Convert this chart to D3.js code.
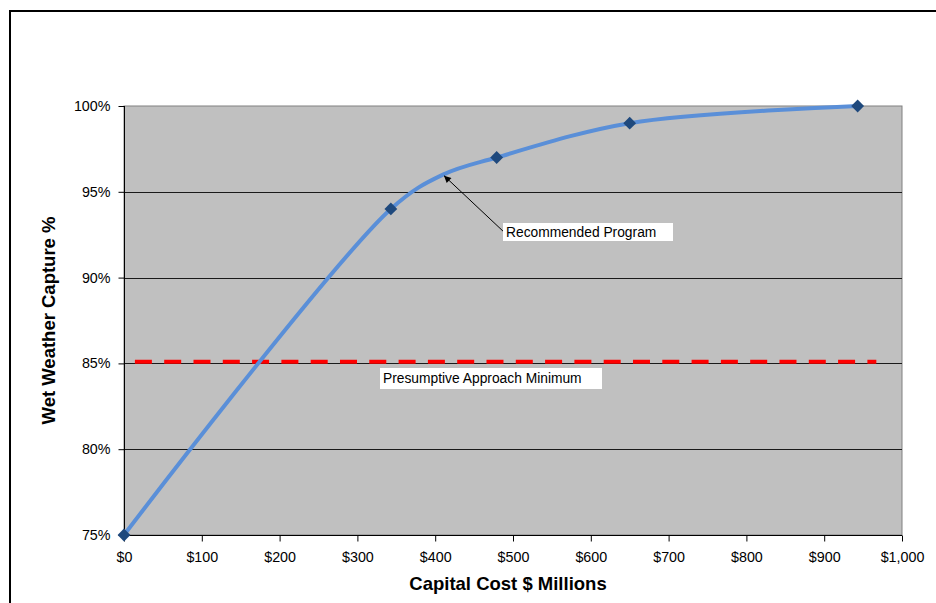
<!DOCTYPE html>
<html>
<head>
<meta charset="utf-8">
<script src="https://cdn.jsdelivr.net/npm/d3@7"></script>
<style>
  body { margin: 0; background: #fff; }
  svg text { font-family: "Liberation Sans", Arial, sans-serif; }
</style>
</head>
<body>
<svg id="chart"></svg>
<script>
// cost ($ millions) vs capture %, the 410 point carries no marker
const costs = [0, 343, 410, 479, 650, 943];
const capture = [75, 94, 96, 97, 99, 100];
const hasMarker = [true, true, false, true, true, true];

// presumptive approach minimum line
const minCosts = [14, 967];
const minCapture = [85.1, 85.1];

const xTicks = [0, 100, 200, 300, 400, 500, 600, 700, 800, 900, 1000];
const yTicks = [75, 80, 85, 90, 95, 100];

const width = 936;
const height = 603;
const margin = { top: 106, right: 34, bottom: 68, left: 124 };

const svg = d3.select("#chart")
    .attr("width", width)
    .attr("height", height);

// outer frame (only top and left edges are inside the window)
svg.append("path")
    .attr("d", `M10,${height + 5}V11H${width + 5}`)
    .attr("fill", "none")
    .attr("stroke", "#000")
    .attr("stroke-width", 2);

const x = d3.scaleLinear()
    .domain([0, 1000])
    .range([margin.left, width - margin.right]);

const y = d3.scaleLinear()
    .domain([75, 100])
    .range([height - margin.bottom, margin.top]);

// plot area
svg.append("rect")
    .attr("x", x(0))
    .attr("y", y(100))
    .attr("width", x(1000) - x(0))
    .attr("height", y(75) - y(100))
    .attr("fill", "#c0c0c0")
    .attr("stroke", "#808080")
    .attr("stroke-width", 1);

// gridlines
svg.append("g")
    .selectAll("line")
    .data(yTicks.filter(d => d > 75 && d < 100))
    .enter()
    .append("line")
    .attr("x1", x(0))
    .attr("x2", x(1000))
    .attr("y1", d => Math.round(y(d)) + 0.5)
    .attr("y2", d => Math.round(y(d)) + 0.5)
    .attr("stroke", "#1a1a1a")
    .attr("stroke-width", 1);

// axes
const xAxis = svg.append("g")
    .attr("transform", `translate(0, ${Math.round(y(75)) + 0.5})`)
    .call(d3.axisBottom(x)
        .tickValues(xTicks)
        .tickSize(6)
        .tickFormat(d => "$" + d3.format(",")(d)));

const yAxis = svg.append("g")
    .attr("transform", `translate(${Math.round(x(0)) + 0.5}, 0)`)
    .call(d3.axisLeft(y)
        .tickValues(yTicks)
        .tickSize(6)
        .tickFormat(d => d + "%"));

[xAxis, yAxis].forEach(g => {
    g.select(".domain").attr("stroke", "#000");
    g.selectAll(".tick line").attr("stroke", "#000");
    g.selectAll(".tick text")
        .style("font-size", "14.3px")
        .style("font-family", "'Liberation Sans', Arial, sans-serif")
        .attr("fill", "#000");
});
xAxis.select(".domain").attr("d", `M${x(0)},0H${x(1000)}`);
xAxis.selectAll(".tick text").attr("y", 26).attr("dy", null);
yAxis.select(".domain").attr("d", `M0,${y(75)}V${y(100)}`);
yAxis.selectAll(".tick text").attr("x", -14);

// axis titles
svg.append("text")
    .attr("x", (x(0) + x(1000)) / 2 - 5)
    .attr("y", 590)
    .attr("text-anchor", "middle")
    .style("font-size", "18.5px")
    .style("font-weight", "bold")
    .text("Capital Cost $ Millions");

svg.append("text")
    .attr("transform", `translate(55, ${(y(75) + y(100)) / 2}) rotate(-90)`)
    .attr("text-anchor", "middle")
    .style("font-size", "18.5px")
    .style("font-weight", "bold")
    .text("Wet Weather Capture %");

// presumptive minimum
svg.append("line")
    .attr("x1", x(minCosts[0]))
    .attr("x2", x(minCosts[1]))
    .attr("y1", y(minCapture[0]))
    .attr("y2", y(minCapture[1]))
    .attr("stroke", "#ff0000")
    .attr("stroke-width", 4)
    .attr("stroke-dasharray", "17,12.3");

// capture curve
const points = costs.map((c, i) => ({ cost: c, pct: capture[i], marker: hasMarker[i] }));

svg.append("path")
    .datum(points)
    .attr("d", d3.line()
        .x(d => x(d.cost))
        .y(d => y(d.pct))
        .curve(d3.curveCatmullRom.alpha(0.5)))
    .attr("fill", "none")
    .attr("stroke", "#5a8fd8")
    .attr("stroke-width", 4);

svg.append("g")
    .selectAll("path")
    .data(points.filter(d => d.marker))
    .enter()
    .append("path")
    .attr("d", d3.symbol().type(d3.symbolSquare).size(82))
    .attr("transform", d => `translate(${x(d.cost)}, ${y(d.pct)}) rotate(45)`)
    .attr("fill", "#1f497d");

// annotations
svg.append("defs").append("marker")
    .attr("id", "arrow")
    .attr("viewBox", "0 0 10 10")
    .attr("refX", 10)
    .attr("refY", 5)
    .attr("markerWidth", 9)
    .attr("markerHeight", 7)
    .attr("markerUnits", "userSpaceOnUse")
    .attr("orient", "auto")
    .append("path")
    .attr("d", "M0,0L10,5L0,10z")
    .attr("fill", "#000");

const rec = points[2];
svg.append("line")
    .attr("x1", 505)
    .attr("y1", 233)
    .attr("x2", x(rec.cost) + 1)
    .attr("y2", y(rec.pct) + 1)
    .attr("stroke", "#000")
    .attr("stroke-width", 1)
    .attr("marker-end", "url(#arrow)");

const labels = [
    { text: "Recommended Program", x: 503, y: 223, w: 170, h: 18 },
    { text: "Presumptive Approach Minimum", x: 380, y: 368, w: 222, h: 21 }
];

const lab = svg.append("g")
    .selectAll("g")
    .data(labels)
    .enter()
    .append("g");

lab.append("rect")
    .attr("x", d => d.x)
    .attr("y", d => d.y)
    .attr("width", d => d.w)
    .attr("height", d => d.h)
    .attr("fill", "#fff");

lab.append("text")
    .attr("x", d => d.x + 3)
    .attr("y", d => d.y + d.h / 2)
    .attr("dy", "0.36em")
    .style("font-size", "13.8px")
    .text(d => d.text);
</script>
</body>
</html>
